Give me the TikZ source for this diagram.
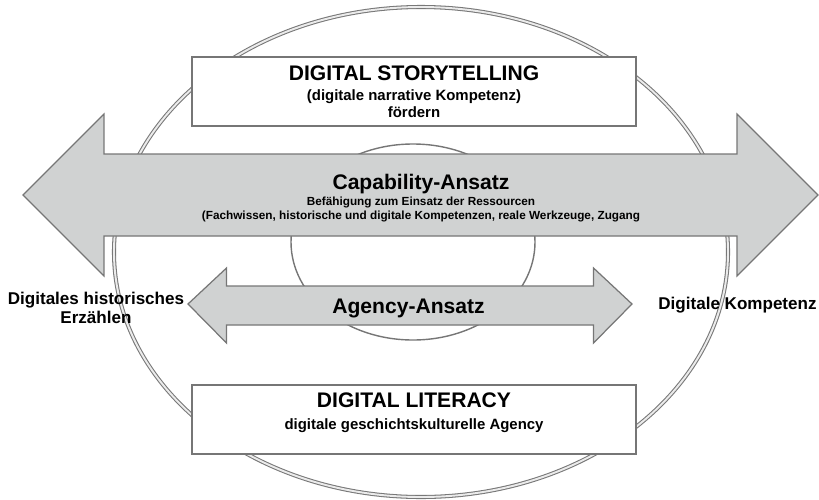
\documentclass[tikz,border=0pt]{standalone}
\usepackage{fontspec}
\setmainfont{Liberation Sans}
\definecolor{arrowgray}{RGB}{208,210,210}
\definecolor{framegray}{RGB}{118,118,118}
\definecolor{ringgray}{RGB}{120,120,120}

\begin{document}
\begin{tikzpicture}[
    panel/.style={draw=framegray, fill=white, line width=0.6pt,
                  minimum width=8.88cm, minimum height=1.38cm,
                  align=center, inner sep=0pt},
    ring/.style={draw=ringgray, line width=0.6pt, double=white!92!black, double distance=1.1pt},
    flow/.style={draw=framegray, fill=arrowgray, line width=0.7pt, line join=miter},
    headline/.style={font=\fontsize{12}{14}\selectfont\bfseries},
    side/.style={font=\fontsize{9.7}{10.8}\selectfont\bfseries, align=center}
  ]
    \useasboundingbox (-8.2,5) rectangle (8.18,-4.98);

    % the two rings sit behind everything else
    \draw[ring] (0.22,-0.04) ellipse [x radius=6.14cm, y radius=4.9cm];
    \draw[framegray, line width=0.8pt] (0.06,0.16) ellipse [x radius=2.44cm, y radius=1.96cm];

    \node[panel, font=\fontsize{8.5}{11.4}\selectfont\bfseries] (story) at (0.08,3.17)
      {{\fontsize{12}{14}\selectfont DIGITAL STORYTELLING}\\
       (digitale narrative Kompetenz)\\[-1.7pt]
       fördern};
    \node[panel, font=\fontsize{8.5}{12.5}\selectfont\bfseries, text depth=9.1pt] (literacy) at (0.08,-3.39)
      {{\fontsize{12}{14}\selectfont DIGITAL LITERACY}\\
       digitale geschichtskulturelle Agency};

    % wide double arrow
    \draw[flow] (-7.74,1.1) -- (-6.12,2.72) -- (-6.12,1.92) -- (6.54,1.92) -- (6.54,2.72)
      -- (8.16,1.1) -- (6.54,-0.52) -- (6.54,0.28) -- (-6.12,0.28) -- (-6.12,-0.52) -- cycle;
    \node[font=\fontsize{6.7}{8}\selectfont\bfseries, align=center] (capability) at (0.22,1.04)
      {{\fontsize{12}{14}\selectfont Capability-Ansatz}\\[1.1pt]
       Befähigung zum Einsatz der Ressourcen\\
       (Fachwissen, historische und digitale Kompetenzen, reale Werkzeuge, Zugang};

    % short double arrow
    \draw[flow] (-4.44,-1.08) -- (-3.67,-0.36) -- (-3.67,-0.72) -- (3.67,-0.72) -- (3.67,-0.36)
      -- (4.44,-1.08) -- (3.67,-1.86) -- (3.67,-1.5) -- (-3.67,-1.5) -- (-3.67,-1.86) -- cycle;
    \node[headline, anchor=base] (agency) at (-0.03,-1.26) {Agency-Ansatz};

    \node[side] (erzaehlen) at (-6.28,-1.15) {Digitales historisches\\Erzählen};
    \node[side, anchor=base] (kompetenz) at (6.55,-1.18) {Digitale Kompetenz};
  \end{tikzpicture}
\end{document}
